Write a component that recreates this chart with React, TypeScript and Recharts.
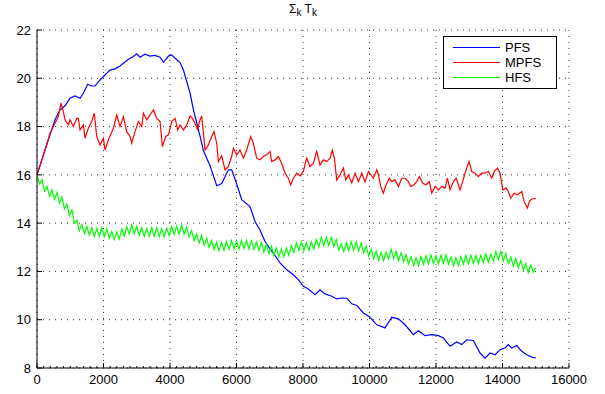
import React from 'react';
import { LineChart, Line, XAxis, YAxis, CartesianGrid, Legend } from 'recharts';

const FONT = '"Liberation Sans", Arial, Helvetica, sans-serif';

const pfsX = [0, 341, 542, 692, 842, 993, 1143, 1294, 1394, 1524, 1645, 1745, 1896, 2046, 2197, 2347, 2497, 2598, 2748, 2899, 2999, 3100, 3250, 3400, 3551, 3701, 3802, 3952, 4052, 4153, 4303, 4403, 4504, 4604, 4704, 4805, 4905, 5005, 5204, 5405, 5555, 5755, 5855, 6005, 6156, 6406, 6557, 6707, 6858, 6958, 7108, 7309, 7510, 7710, 7860, 8010, 8161, 8362, 8512, 8663, 8864, 9014, 9165, 9315, 9466, 9616, 9817, 10017, 10218, 10468, 10669, 10869, 11070, 11320, 11471, 11671, 11872, 12072, 12222, 12423, 12623, 12774, 12924, 13124, 13325, 13476, 13626, 13777, 13927, 14077, 14177, 14278, 14428, 14579, 14729, 14880, 15000];
const pfsY = [16.0, 17.45, 18.28, 18.69, 18.86, 19.17, 19.27, 19.17, 19.38, 19.75, 19.68, 19.68, 19.93, 20.14, 20.34, 20.39, 20.51, 20.62, 20.79, 20.9, 21.01, 20.87, 21.0, 20.92, 20.95, 20.87, 20.66, 20.92, 20.97, 20.83, 20.65, 20.34, 19.86, 19.38, 18.69, 18.14, 17.59, 17.0, 16.38, 15.55, 15.64, 16.21, 16.21, 15.63, 14.97, 14.69, 14.07, 13.72, 13.24, 13.03, 12.76, 12.35, 12.07, 11.86, 11.66, 11.38, 11.27, 11.04, 11.24, 11.07, 10.97, 10.86, 10.9, 10.89, 10.66, 10.59, 10.28, 10.1, 9.79, 9.66, 10.1, 10.04, 9.79, 9.38, 9.54, 9.34, 9.38, 9.34, 9.24, 8.9, 9.08, 8.97, 9.17, 9.14, 8.62, 8.41, 8.62, 8.55, 8.76, 8.83, 8.97, 8.83, 8.93, 8.69, 8.55, 8.45, 8.42];

const mpfsX = [0, 241, 391, 542, 642, 722, 792, 842, 943, 993, 1093, 1194, 1244, 1294, 1394, 1444, 1545, 1645, 1725, 1795, 1896, 1996, 2046, 2147, 2297, 2397, 2497, 2598, 2698, 2798, 2848, 2949, 3049, 3150, 3200, 3300, 3400, 3501, 3601, 3701, 3772, 3872, 3952, 4052, 4153, 4233, 4303, 4403, 4504, 4604, 4674, 4754, 4825, 4905, 4955, 5055, 5154, 5254, 5324, 5405, 5455, 5555, 5655, 5755, 5855, 5905, 6005, 6106, 6206, 6306, 6427, 6507, 6607, 6707, 6808, 6908, 7008, 7058, 7159, 7259, 7359, 7460, 7560, 7630, 7710, 7811, 7911, 8010, 8111, 8211, 8312, 8412, 8512, 8613, 8713, 8813, 8883, 8944, 9014, 9115, 9215, 9285, 9365, 9466, 9566, 9666, 9767, 9867, 9967, 10117, 10218, 10268, 10338, 10418, 10498, 10599, 10669, 10769, 10869, 10970, 11070, 11170, 11240, 11340, 11421, 11501, 11601, 11702, 11802, 11872, 11972, 12072, 12173, 12273, 12343, 12423, 12523, 12604, 12674, 12724, 12804, 12874, 12944, 12994, 13074, 13175, 13275, 13375, 13476, 13576, 13676, 13747, 13847, 13927, 14007, 14107, 14177, 14248, 14348, 14448, 14579, 14649, 14749, 14809, 14880, 15000];
const mpfsY = [16.0, 17.03, 17.72, 18.14, 18.41, 18.97, 18.62, 18.28, 18.07, 18.28, 18.0, 18.34, 18.34, 17.86, 18.07, 17.52, 17.93, 18.21, 18.55, 17.59, 17.24, 17.52, 17.03, 17.45, 17.93, 18.48, 18.0, 18.41, 17.79, 17.59, 17.31, 17.79, 18.21, 18.0, 18.55, 18.28, 18.48, 18.69, 18.34, 18.21, 17.17, 17.59, 17.66, 18.21, 18.34, 17.86, 18.07, 17.86, 18.07, 18.44, 18.34, 18.14, 17.89, 18.28, 18.44, 17.03, 17.24, 17.59, 17.79, 17.31, 16.55, 16.79, 16.21, 16.34, 16.76, 17.1, 16.83, 17.03, 16.69, 17.03, 17.59, 17.31, 16.69, 16.62, 16.76, 16.83, 16.97, 16.55, 16.62, 16.76, 16.48, 16.07, 15.86, 15.59, 15.86, 16.07, 15.96, 16.14, 16.69, 16.34, 16.48, 16.97, 16.41, 16.62, 16.55, 16.69, 17.03, 16.69, 15.79, 16.0, 16.28, 15.79, 16.0, 15.66, 16.07, 15.72, 16.07, 15.72, 16.14, 15.86, 16.21, 16.0, 15.52, 15.24, 15.59, 15.86, 15.72, 15.79, 15.52, 15.86, 15.86, 15.72, 15.52, 15.59, 15.72, 15.93, 15.65, 15.59, 15.72, 15.24, 15.52, 15.38, 15.52, 15.45, 15.86, 15.38, 15.72, 15.86, 15.59, 15.38, 15.72, 16.07, 16.35, 16.55, 16.14, 16.07, 15.93, 16.07, 16.07, 16.14, 15.86, 16.14, 16.28, 16.07, 15.38, 15.45, 15.31, 15.03, 15.24, 15.17, 15.31, 14.9, 14.62, 14.9, 15.0, 15.02];

// HFS sampled every 75 iterations (0 .. 15000)
const hfsStep = 75;
const hfsY = [
  16.0, 15.62, 15.8, 15.33, 15.52, 15.11, 15.38, 14.98, 15.27, 14.83,
  15.08, 14.59, 14.79, 14.32, 14.55, 14.0, 14.12, 13.69, 13.95, 13.57,
  13.86, 13.5, 13.82, 13.45, 13.79, 13.45, 13.81, 13.44, 13.77, 13.37,
  13.66, 13.31, 13.64, 13.35, 13.76, 13.46, 13.85, 13.55, 13.92, 13.55,
  13.87, 13.49, 13.82, 13.46, 13.78, 13.45, 13.81, 13.46, 13.81, 13.44,
  13.77, 13.44, 13.79, 13.49, 13.86, 13.53, 13.89, 13.55, 13.92, 13.54,
  13.84, 13.43, 13.7, 13.28, 13.55, 13.18, 13.5, 13.09, 13.37, 12.99,
  13.28, 12.91, 13.22, 12.86, 13.2, 12.88, 13.25, 12.92, 13.28, 12.93,
  13.26, 12.93, 13.28, 12.94, 13.29, 12.93, 13.27, 12.91, 13.22, 12.87,
  13.2, 12.81, 13.12, 12.74, 13.05, 12.67, 12.96, 12.6, 12.93, 12.61,
  12.97, 12.67, 13.06, 12.78, 13.19, 12.87, 13.22, 12.86, 13.2, 12.87,
  13.23, 12.93, 13.32, 13.01, 13.4, 13.07, 13.42, 13.07, 13.41, 13.03,
  13.33, 12.89, 13.14, 12.83, 13.19, 12.86, 13.23, 12.88, 13.23, 12.85,
  13.17, 12.77, 13.04, 12.64, 12.92, 12.53, 12.83, 12.46, 12.79, 12.45,
  12.8, 12.51, 12.92, 12.53, 12.83, 12.45, 12.77, 12.39, 12.7, 12.31,
  12.6, 12.24, 12.57, 12.24, 12.61, 12.29, 12.65, 12.32, 12.68, 12.32,
  12.65, 12.31, 12.67, 12.34, 12.69, 12.3, 12.6, 12.24, 12.57, 12.25,
  12.62, 12.3, 12.66, 12.32, 12.67, 12.33, 12.66, 12.32, 12.67, 12.36,
  12.73, 12.38, 12.72, 12.43, 12.82, 12.48, 12.83, 12.44, 12.75, 12.33,
  12.59, 12.22, 12.54, 12.15, 12.45, 12.05, 12.32, 11.95, 12.27, 11.97,
  12.15,
];

const xTicks = [0, 2000, 4000, 6000, 8000, 10000, 12000, 14000, 16000];
const yTicks = [8, 10, 12, 14, 16, 18, 20, 22];
const minorStep = 200;
const xAllTicks: number[] = [];
for (let v = 0; v <= 16000; v += minorStep) xAllTicks.push(v);

const seriesNames = ['PFS', 'MPFS', 'HFS'];
const seriesColors = ['#0000ff', '#ff0000', '#00ff00'];

const pfsData = pfsX.map((x, i) => ({ x, y: pfsY[i] }));
const mpfsData = mpfsX.map((x, i) => ({ x, y: mpfsY[i] }));
const hfsData = hfsY.map((y, i) => ({ x: i * hfsStep, y }));
const seriesData = [pfsData, mpfsData, hfsData];

const XTick = (props: any) => {
  const { x, y, payload } = props;
  const major = payload.value % 2000 === 0;
  return (
    <g>
      <line x1={x} x2={x} y1={y} y2={y - (major ? 5 : 2)} stroke="#000" strokeWidth={1} />
      {major && (
        <text x={x} y={y + 16} textAnchor="middle" fontSize={13} fontFamily={FONT} fill="#000">
          {payload.value}
        </text>
      )}
    </g>
  );
};

const YTick = (props: any) => {
  const { x, y, payload } = props;
  return (
    <g>
      <line x1={x} x2={x + 5} y1={y} y2={y} stroke="#000" strokeWidth={1} />
      <text x={x - 6} y={y} dy="0.36em" textAnchor="end" fontSize={13} fontFamily={FONT} fill="#000">
        {payload.value}
      </text>
    </g>
  );
};

const LegendBox = () => (
  <div
    style={{
      width: 114,
      height: 53,
      boxSizing: 'border-box',
      border: '1px solid #000',
      background: '#fff',
      paddingTop: 3,
      fontFamily: FONT,
      fontSize: 13,
      color: '#000',
    }}
  >
    {seriesNames.map((n, i) => (
      <div key={n} style={{ display: 'flex', alignItems: 'center', height: 15 }}>
        <div style={{ width: 47, height: 0, borderTop: `1px solid ${seriesColors[i]}`, marginLeft: 9, marginRight: 5 }} />
        <span>{n}</span>
      </div>
    ))}
  </div>
);

export default function App() {
  return (
    <div style={{ position: 'absolute', left: 0, top: 0, width: 605, height: 394, background: '#fff' }}>
      <div
        style={{
          position: 'absolute',
          left: 0,
          top: 2,
          width: 606,
          textAlign: 'center',
          fontFamily: FONT,
          fontSize: 12,
          color: '#000',
          zIndex: 2,
        }}
      >
        Σ<sub style={{ fontSize: 10 }}>k</sub> T<sub style={{ fontSize: 10 }}>k</sub>
      </div>
      <LineChart width={605} height={394} margin={{ top: 30, right: 36, left: 7, bottom: 6 }}>
        <CartesianGrid
          stroke="#333"
          strokeDasharray="1 5"
          verticalValues={xTicks}
          horizontalValues={yTicks}
        />
        <XAxis
          type="number"
          dataKey="x"
          domain={[0, 16000]}
          ticks={xAllTicks}
          interval={0}
          tickSize={0}
          tickMargin={0}
          tickLine={false}
          tick={<XTick />}
          height={20}
          axisLine={{ stroke: '#000' }}
          allowDataOverflow
        />
        <YAxis
          type="number"
          dataKey="y"
          domain={[8, 22]}
          ticks={yTicks}
          interval={0}
          tickSize={0}
          tickMargin={0}
          tickLine={false}
          tick={<YTick />}
          width={30}
          axisLine={{ stroke: '#000' }}
          allowDataOverflow
        />
        {seriesNames.map((n, i) => (
          <Line
            key={n}
            name={n}
            data={seriesData[i]}
            dataKey="y"
            type="linear"
            stroke={seriesColors[i]}
            strokeWidth={1.2}
            dot={false}
            activeDot={false}
            isAnimationActive={false}
          />
        ))}
        <Legend
          layout="vertical"
          align="center"
          verticalAlign="middle"
          wrapperStyle={{ position: 'absolute', left: 443, top: 36, width: 114, height: 53 }}
          content={() => <LegendBox />}
        />
      </LineChart>
    </div>
  );
}
